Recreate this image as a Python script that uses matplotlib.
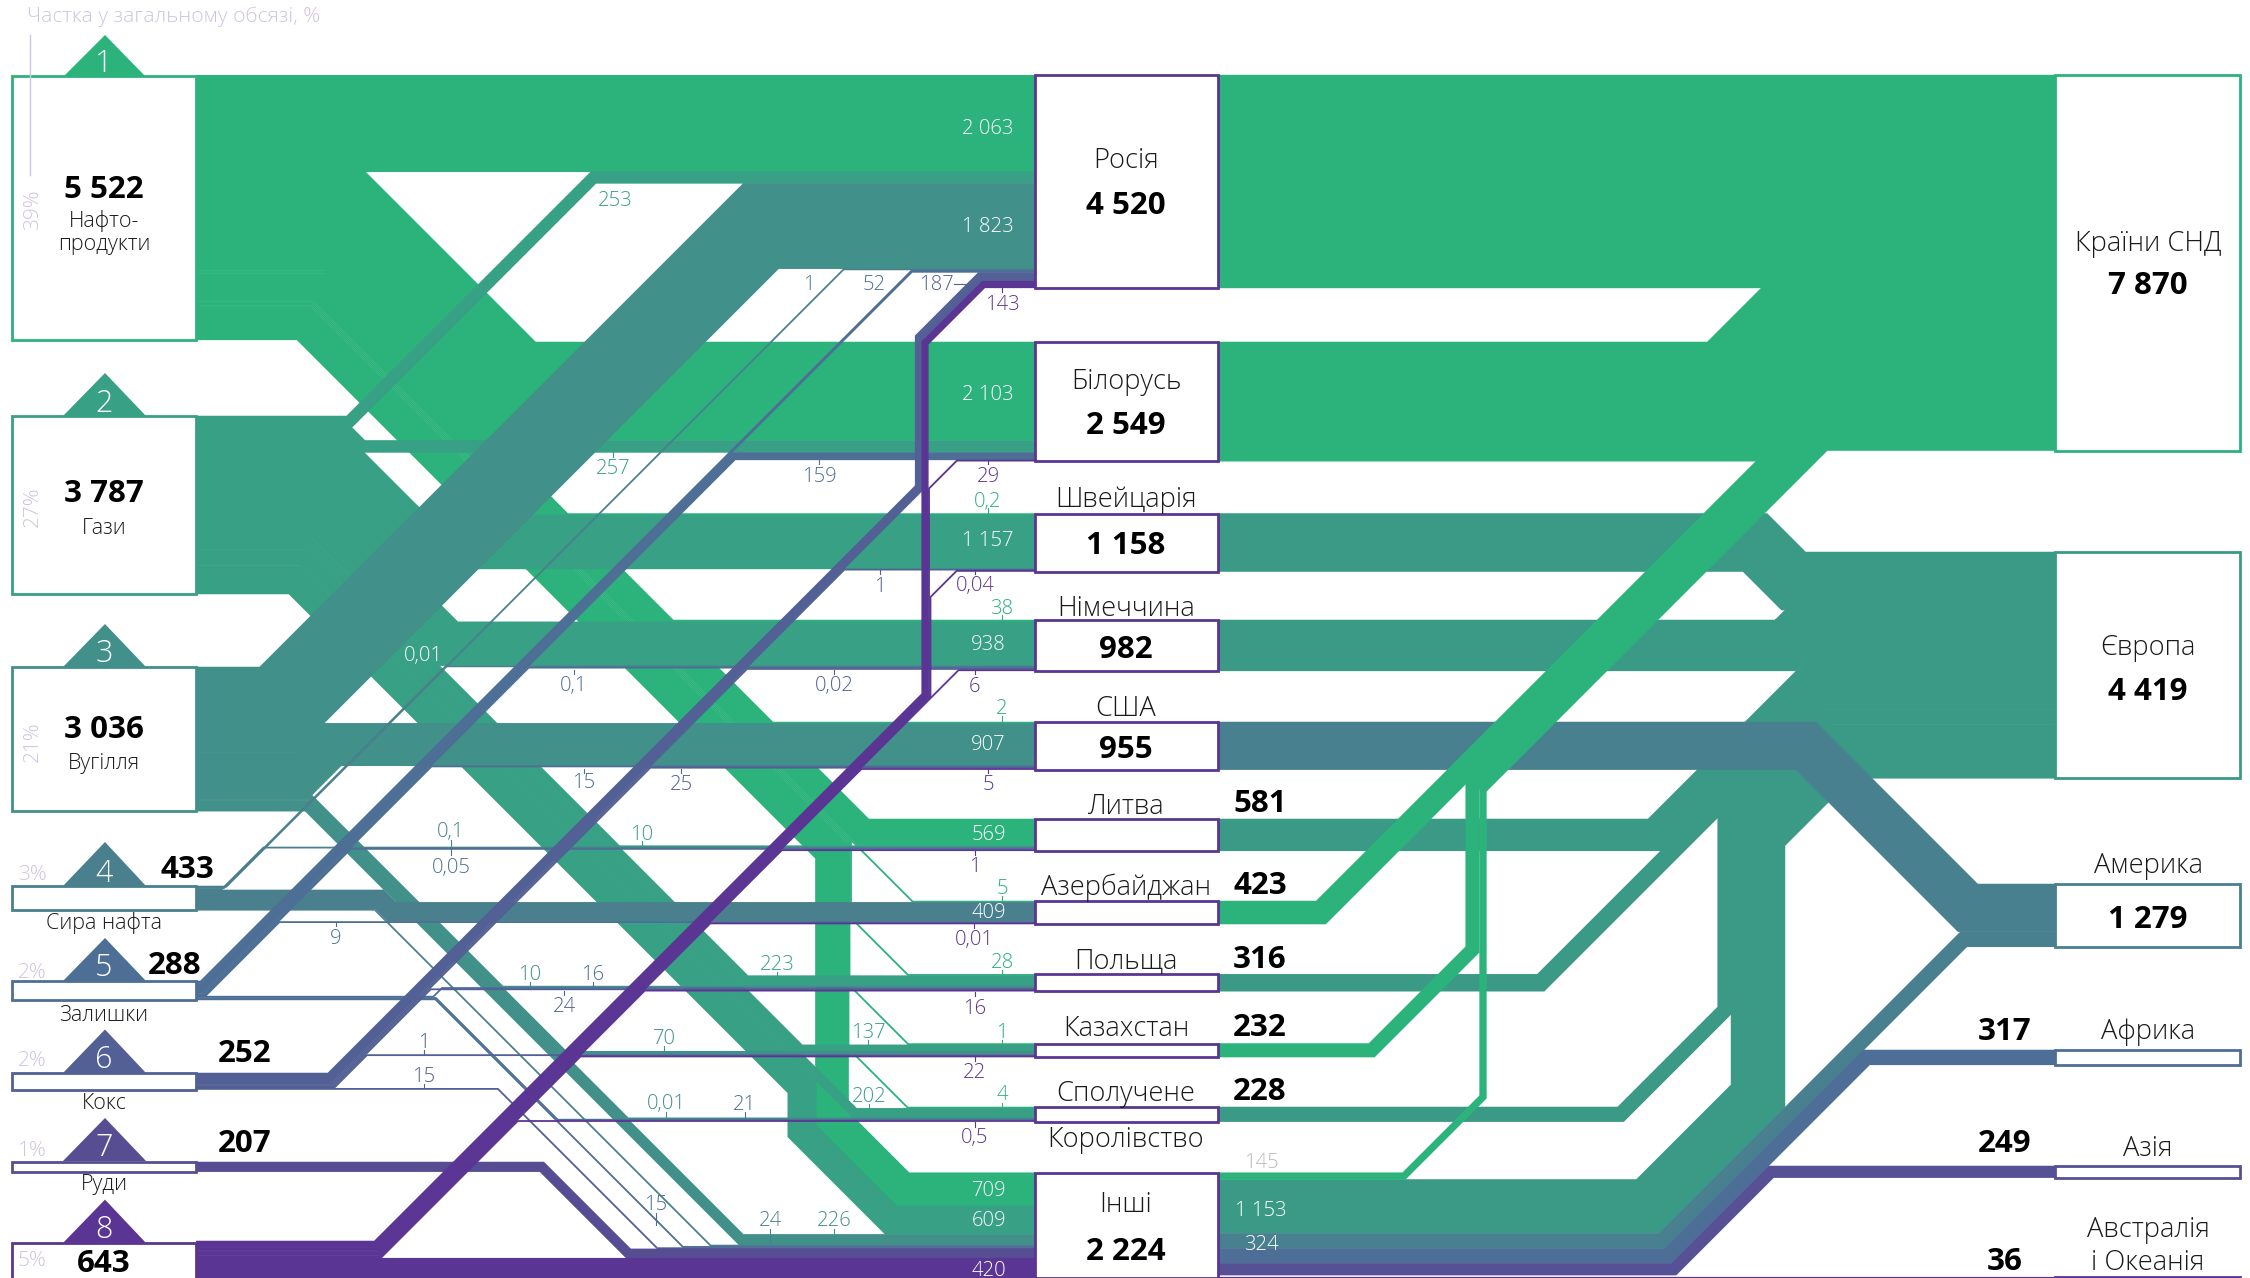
import matplotlib
matplotlib.use("Agg")
import matplotlib.pyplot as plt
from matplotlib.patches import Rectangle, Polygon

# ---------- data ----------
products = ["Нафто-\nпродукти", "Гази", "Вугілля", "Сира нафта", "Залишки", "Кокс", "Руди", ""]
product_totals = [5522, 3787, 3036, 433, 288, 252, 207, 643]
product_share = [39, 27, 21, 3, 2, 2, 1, 5]
countries = ["Росія", "Білорусь", "Швейцарія", "Німеччина", "США", "Литва", "Азербайджан",
             "Польща", "Казахстан", "Сполучене\nКоролівство", "Інші"]
country_totals = [4520, 2549, 1158, 982, 955, 581, 423, 316, 232, 228, 2224]
regions = ["Країни СНД", "Європа", "Америка", "Африка", "Азія", "Австралія\nі Океанія"]
region_totals = [7870, 4419, 1279, 317, 249, 36]

#           Рос   Біл   Швц  Нім   США  Лит   Азр  Пол  Каз  Спол  Інші
oil_flow = [2063, 2103, 0.2, 38,   2,   569,  5,   28,  1,   4,    709]
gas_flow = [253,  257,  1157, 938, 0,   10,   0,   223, 137, 202,  609]
coal_flow = [1823, 0,   0,   0,    907, 0,    0,   10,  70,  0.01, 226]
crude_flow = [1,  0,    0,   0.01, 0,   0.1,  409, 0,   0,   0,    24]
resid_flow = [52, 159,  0,   0.1,  15,  0.05, 9,   16,  0,   21,   15]
coke_flow = [187, 0,    1,   0.02, 25,  0,    0,   24,  1,   0,    15]
ore_flow = [0,    0,    0,   0,    0,   0,    0,   0,   0,   0,    207]
other_flow = [143, 29,  0.04, 6,   5,   1,    0.01, 16, 22,  0.5,  420]
flow_table = [oil_flow, gas_flow, coal_flow, crude_flow, resid_flow, coke_flow, ore_flow, other_flow]
others_to_regions = [145, 1153, 324, 317, 249, 36]

# ---------- style / layout ----------
W, H = 2250, 1278
plt.rcParams['font.family'] = ['Open Sans', 'DejaVu Sans']
P_COL = ['#2BB37B', '#37A085', '#41908A', '#4A808E', '#4D6F95', '#526095', '#574D93', '#5A3593']
R_COL = ['#2BB37B', '#3A9A85', '#49808F', '#4D6E96', '#565095', '#5B3593']
SCALE, MINW, SEAM = 0.0468, 1.3, 0.5
P_TOP = [75.5, 416, 667, 886, 981, 1073, 1162, 1241]
C_TOP = [75, 342, 513.5, 620, 722, 819, 901, 974.3, 1043.5, 1107, 1172.7]
R_TOP = [75, 552, 884, 1050, 1166, 1277]
PX = (12, 196); CX = (1035, 1218); RX = (2055, 2240)
PURPLE = '#5A3593'
DY = 2.5

def w(v):
    return max(v * SCALE, MINW)

# route: diagonal 'd' (x-y=k), 'u' (x+y=k), 'v' vertical at x
ROUTE_L = {
 (0,0): [], (0,1): [('d',124)], (0,2): [('d',53.5)], (0,3): [('d',52)], (0,4): [('d',50)],
 (0,5): [('d',31)], (0,6): [('d',11)], (0,7): [('d',9),('v',851),('d',-67)],
 (0,8): [('d',7),('v',849.5),('d',-136)], (0,9): [('d',5),('v',848.5),('d',-200)],
 (0,10): [('d',-19.5),('v',832),('d',-287)],
 (1,0): [('u',771)], (1,1): [('d',-84)], (1,2): [('d',-126.5)], (1,3): [('d',-195)], (1,5): [('d',-227)],
 (1,7): [('d',-235)], (1,8): [('d',-247)], (1,9): [('d',-258.3)], (1,10): [('d',-285),('v',802),('d',-329)],
 (2,0): [('u',987)], (2,4): [('u',1077)], (2,7): [('d',-484)], (2,8): [('d',-487)], (2,9): [('d',-490.4)],
 (2,10): [('d',-498.5)],
 (3,0): [('u',1113)], (3,3): [('u',1112)], (3,5): [('u',1111)], (3,6): [('d',-520)], (3,10): [('d',-535)],
 (4,0): [('u',1183)], (4,1): [('u',1190)], (4,3): [('u',1196.3)], (4,4): [('u',1198)], (4,5): [('u',1199.7)],
 (4,6): [('u',1201.4)], (4,7): [('u',1430)], (4,9): [('d',-562)], (4,10): [('d',-564)],
 (5,0): [('u',1407),('v',919.5),('u',1257)], (5,2): [('u',1414)], (5,3): [('u',1416)], (5,4): [('u',1418)],
 (5,7): [('u',1420)], (5,8): [('u',1422)], (5,10): [('d',-591)],
 (6,10): [('d',-625)],
 (7,0): [('u',1620),('v',925),('u',1268)], (7,1): [('u',1625.5),('v',929),('u',1417.5)],
 (7,2): [('u',1627),('v',930.5),('u',1527.5)], (7,3): [('u',1628.7)], (7,4): [('u',1630.4)], (7,5): [('u',1632)],
 (7,6): [('u',1633.7)], (7,7): [('u',1635.4)], (7,8): [('u',1637)], (7,9): [('u',1638.7)], (7,10): [],
}
ROUTE_R = {
 0: (0, []), 1: (0, [('u',2133.6)]), 6: (0, [('u',2233.5)]), 8: (0, [('u',2422),('v',1472.5),('u',2259)]),
 'o0': (0, [('u',2580),('v',1483),('u',2273)]),
 2: (1, [('d',1212.5)]), 3: (1, [('u',2431)]), 5: (1, [('u',2489.5)]), 7: (1, [('u',2523.5)]),
 9: (1, [('u',2735),('v',1725),('u',2545)]), 'o1': (1, [('u',2854),('v',1758),('u',2592.5)]),
 4: (2, [('d',1060)]), 'o2': (2, [('u',2903)]),
 'o3': (3, [('u',2924)]), 'o4': (4, [('u',2943)]), 'o5': (5, []),
}

def polyline(x0, ys, x1, yt, segs):
    if not segs:
        return [x0, x1], [yt, yt]
    def dx(s, y): return s[1] + y if s[0] == 'd' else s[1] - y
    def dy(s, x): return x - s[1] if s[0] == 'd' else s[1] - x
    xs, yy = [x0, dx(segs[0], ys)], [ys, ys]
    for i, s in enumerate(segs):
        if s[0] == 'v':
            xs += [s[1], s[1]]
            yy += [dy(segs[i-1], s[1]), dy(segs[i+1], s[1])]
    xs += [dx(segs[-1], yt), x1]
    yy += [yt, yt]
    return xs, yy

fig = plt.figure(figsize=(W/100, H/100), dpi=100)
ax = fig.add_axes([0, 0, 1, 1])
ax.set_xlim(0, W); ax.set_ylim(H, 0); ax.axis('off')

def band(xs, ys, t, col, z):
    ax.plot(xs, ys, color=col, lw=(t + SEAM)*0.72, solid_joinstyle='miter', solid_capstyle='butt', zorder=z)

# left half ---------------------------------------------------------
cur_c = list(C_TOP)
p_h = []
for p, row in enumerate(flow_table):
    cur_p = P_TOP[p]
    for c, v in enumerate(row):
        if v == 0:
            continue
        t = w(v)
        xs, yy = polyline(PX[1], cur_p + t/2, CX[0], cur_c[c] + t/2, ROUTE_L[(p, c)])
        band(xs, yy, t, P_COL[p], 10 + p)
        cur_p += t
        cur_c[c] += t
    p_h.append(cur_p - P_TOP[p])
c_h = [cur_c[i] - C_TOP[i] for i in range(len(C_TOP))]

# right half --------------------------------------------------------
cur_r = list(R_TOP)
o_cur = C_TOP[10]
o_rows = {}
for i, v in enumerate(others_to_regions):
    t = w(v)
    o_rows['o%d' % i] = (o_cur, t)
    o_cur += t
R_Z = [6, 1, 2, 3, 4, 5]
order = [0, 1, 6, 8, 'o0', 2, 3, 5, 7, 9, 'o1', 4, 'o2', 'o3', 'o4', 'o5']
for key in order:
    r, segs = ROUTE_R[key]
    if isinstance(key, str):
        top, t = o_rows[key]
    else:
        top, t = C_TOP[key], c_h[key]
    xs, yy = polyline(CX[1], top + t/2, RX[0], cur_r[r] + t/2, segs)
    band(xs, yy, t, R_COL[r], 10 + R_Z[r])
    cur_r[r] += t
r_h = [cur_r[i] - R_TOP[i] for i in range(len(R_TOP))]

# nodes -------------------------------------------------------------
def node(x, y, h, col):
    ax.add_patch(Rectangle((x[0], y), x[1]-x[0], h, fc='white', ec=col, lw=2.0, zorder=30))

for i in range(8):
    node(PX, P_TOP[i] + (2 if i == 7 else 0), p_h[i], P_COL[i])
for i in range(11):
    node(CX, C_TOP[i], c_h[i], PURPLE)
for i in range(6):
    node(RX, R_TOP[i], r_h[i], R_COL[i])

def num(v):
    s = str(v)
    if isinstance(v, int) and v >= 1000:
        return s[:-3] + ' ' + s[-3:]
    return s.replace('.', ',')

def label(x, y, s, **kw):
    ax.text(x, y + DY, s, ha='center', va='center', **kw)

BOLD = dict(fontweight='bold', fontsize=22.5, color='black', zorder=40)
NAME = dict(fontweight='light', fontsize=19.6, color='#1a1a1a', zorder=40)
SMALL = dict(fontweight='light', fontsize=15.5, color='#1a1a1a', zorder=40)

# triangles
TRI_BASE = [77, 416, 667, 886, 981, 1073, 1161, 1243]
TRI_APEX = [35, 373, 624, 842, 938, 1029.5, 1118, 1199.6]
for i in range(8):
    ax.add_patch(Polygon([(63, TRI_BASE[i]), (105, TRI_APEX[i]), (146, TRI_BASE[i])], fc=P_COL[i], ec='none', zorder=31))
    label(104, TRI_BASE[i]-15, str(i+1), color='white', fontsize=22, fontweight='light', zorder=40)

# product captions
TOT_XY = [(104,187), (104,492), (104,727), (187,868), (175,964), (245,1052), (245,1141), (104,1262)]
NAME_XY = [(104,230), (104,526), (104,761), (104,921), (104,1013), (104,1101), (104,1182), None]
for i in range(8):
    label(*TOT_XY[i], num(product_totals[i]), **BOLD)
    if NAME_XY[i]:
        label(*NAME_XY[i], products[i], linespacing=1.1, **SMALL)

# shares
SHARE_C = '#CFC3E3'
SHARE_XY = [(33,207,90), (33,504,90), (33,739,90), (32,873,0), (32,970,0), (32,1059,0), (32,1149,0), (32,1259,0)]
for i, (x, y, rot) in enumerate(SHARE_XY):
    label(x, y, '%d%%' % product_share[i], rotation=rot, color=SHARE_C, fontsize=15, fontweight='light', zorder=41)
label(174, 14, 'Частка у загальному обсязі, %', color=SHARE_C, fontsize=15.2, fontweight='light')
ax.plot([30, 30], [35, 175], color=SHARE_C, lw=1, zorder=41)

# countries
CN_XY = [(1126,159), (1126,379), (1126,498), (1126,606), (1126,706), (1126,804), (1126,885), (1126,959), (1126,1027), None, (1126,1203)]
CT_XY = [(1126,204), (1126,423), (1126,543), (1126,647), (1126,747), (1260,802), (1260,883), (1260,957), (1260,1025), (1260,1089), (1126,1249)]
for i in range(11):
    if CN_XY[i]:
        label(*CN_XY[i], countries[i], **NAME)
    label(*CT_XY[i], num(country_totals[i]), **BOLD)
a, b = countries[9].split('\n')
label(1126, 1092, a, **NAME); label(1126, 1138, b, **NAME)

# regions
RN_XY = [(2148,242), (2148,646), (2148,864), (2148,1030), (2148,1147), None]
RT_XY = [(2148,284), (2148,690), (2148,918), (2005,1029), (2005,1142), (2005,1260)]
for i in range(6):
    if RN_XY[i]:
        label(*RN_XY[i], regions[i], **NAME)
    label(*RT_XY[i], num(region_totals[i]), **BOLD)
a, b = regions[5].split('\n')
label(2148, 1228, a, **NAME); label(2148, 1260, b, **NAME)

# flow labels: product, country, x, y, tick from, tick to, colour override
FLOW_LABELS = [
 (0,0,988,127,0,0,'w'), (2,0,988,225,0,0,'w'), (0,1,988,393,0,0,'w'), (1,2,988,540,0,0,'w'), (1,3,988,644,0,0,'w'),
 (2,4,988,744,0,0,'w'), (0,5,989,833,0,0,'w'), (3,6,989,911,0,0,'w'), (0,10,989,1189,0,0,'w'), (1,10,989,1220,0,0,'w'),
 (7,10,989,1270,0,0,'w'), (3,3,423,654,0,0,'w'),
 (1,0,615,199,0,0,None), (3,0,809,284,0,0,None), (4,0,874,284,0,0,None), (5,0,936,284,0,0,None),
 (7,0,1002,303,287,292,None), (1,1,613,468,452,457,None), (4,1,819,475,460,464,None), (7,1,988,475,460,464,None),
 (0,2,988,500,508,513,None), (5,2,880,585,570,574,None), (7,2,975,585,570,574,None), (0,3,1002,607,615,620,None),
 (4,3,574,684,670,674,None), (5,3,834,685,670,674,None), (7,3,975,686,670,674,None), (0,4,1002,708,716,722,None),
 (4,4,584,781,769,773,None), (5,4,681,783,769,773,None), (7,4,988,784,769,773,None),
 (3,5,451,831,840,847,None), (4,5,451,866,848,855,None), (1,5,642,833,841,845,None), (7,5,975,865,851,855,None),
 (0,6,1002,887,896,901,None), (4,6,336,937,922,926,None), (7,6,974,939,924,928,None),
 (0,7,1002,961,970,974,None), (1,7,777,963,972,976,None), (2,7,530,973,982,986,None), (4,7,593,973,982,986,None),
 (5,7,564,1006,991,995,None), (7,7,975,1007,992,996,None),
 (0,8,1002,1031,1040,1043,None), (1,8,868,1032,1040,1044,None), (2,8,664,1037,1046,1050,None), (5,8,424,1042,1050,1054,None),
 (7,8,975,1072,1057,1061,None), (5,10,424,1075,1084,1088,None), (0,9,1002,1094,1103,1107,None), (1,9,869,1096,1104,1108,None),
 (2,9,666,1103,1112,1117,None), (4,9,745,1103,1112,1117,None), (7,9,975,1137,1122,1127,None),
 (4,10,656,1204,1213,1225,None), (3,10,770,1220,1229,1245,None), (2,10,834,1220,1229,1235,None),
]
for p, c, x, y, t0, t1, ov in FLOW_LABELS:
    col = 'white' if ov == 'w' else P_COL[p]
    ax.text(x, y + 1.5, num(flow_table[p][c]), color=col, fontsize=14.6, fontweight='light', ha='center', va='center', zorder=45)
    if t1 > t0:
        ax.plot([x, x], [t0, t1], color=col, lw=0.8, zorder=45)
ax.plot([954, 968], [284, 284], color=P_COL[5], lw=0.8, zorder=45)
for i, y, col in [(0, 1161, '#BBBBBB'), (1, 1209, 'white'), (2, 1243, 'white')]:
    ax.text(1261, y + 1.5, num(others_to_regions[i]), color=col, fontsize=14.6, fontweight='light', ha='center', va='center', zorder=45)

fig.savefig('out.png', dpi=100, facecolor='white')
